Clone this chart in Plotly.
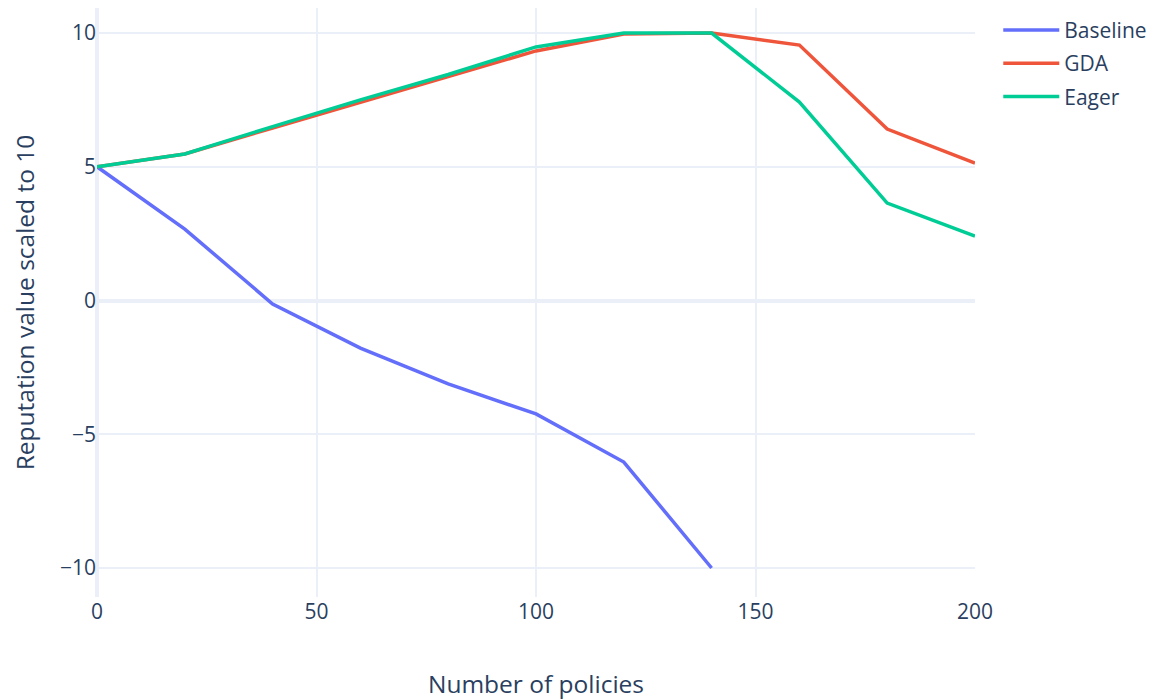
import plotly.graph_objects as go

policies = [0, 20, 40, 60, 80, 100, 120, 140, 160, 180, 200]
baseline = [5, 2.67, -0.13, -1.78, -3.12, -4.24, -6.04, -10]
gda = [5, 5.48, 6.45, 7.4, 8.35, 9.33, 9.96, 10, 9.55, 6.41, 5.14]
eager = [5, 5.48, 6.5, 7.5, 8.45, 9.48, 10, 10, 7.42, 3.64, 2.41]

fig = go.Figure()
fig.add_trace(go.Scatter(x=policies[:len(baseline)], y=baseline, mode="lines", name="Baseline",
                         legendgroup="a", line=dict(color="#636efa", width=3.5)))
fig.add_trace(go.Scatter(x=policies, y=gda, mode="lines", name="GDA",
                         legendgroup="b", line=dict(color="#EF553B", width=3.5)))
fig.add_trace(go.Scatter(x=policies, y=eager, mode="lines", name="Eager",
                         legendgroup="c", line=dict(color="#00cc96", width=3.5)))

fig.update_layout(
    template="plotly_white",
    width=1144, height=700,
    font=dict(family="Open Sans", size=21, color="#2a3f5f"),
    margin=dict(l=89, r=177, t=0, b=111, autoexpand=False),
    legend=dict(font=dict(size=21), x=1.0265, y=0.997, yanchor="top", itemwidth=56,
                tracegroupgap=3),
)
fig.update_xaxes(range=[0, 200], title=dict(text="Number of policies", font=dict(size=24.5), standoff=51),
                 tickfont=dict(size=21), gridwidth=2, zerolinewidth=3.5)
fig.update_yaxes(range=[-11.084, 10.935], title=dict(text="Reputation value scaled to 10", font=dict(size=24.5),
                 standoff=30),
                 tickfont=dict(size=21), tickvals=[-10, -5, 0, 5, 10], gridwidth=2, zerolinewidth=3.5)

fig.write_html("out.html")
